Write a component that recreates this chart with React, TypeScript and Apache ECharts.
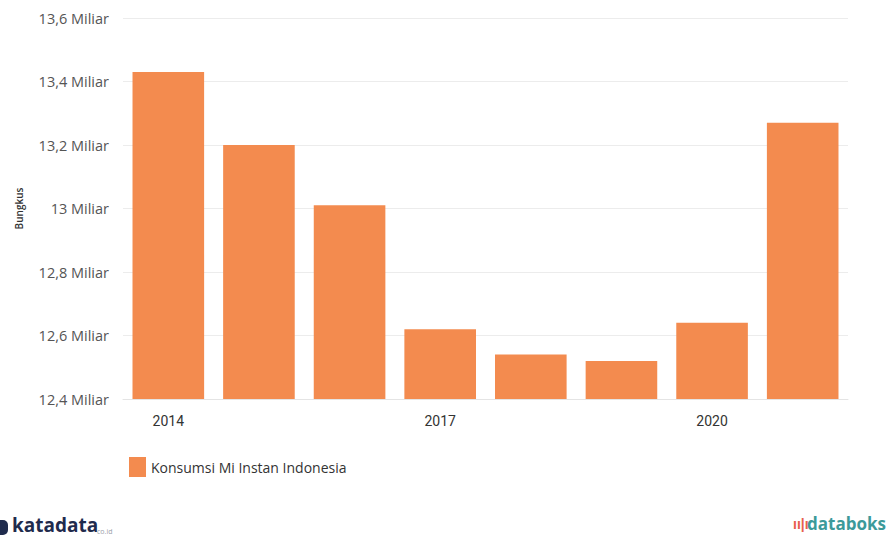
import React, { useEffect, useRef } from "react";
import * as echarts from "echarts";

const years = ["2014", "2015", "2016", "2017", "2018", "2019", "2020", "2021"];
const consumption = [13.43, 13.2, 13.01, 12.62, 12.54, 12.52, 12.64, 13.27];
const seriesName = "Konsumsi Mi Instan Indonesia";
const yAxisName = "Bungkus";

export default function App() {
  const ref = useRef<HTMLDivElement>(null);
  useEffect(() => {
    document.body.style.margin = "0";
    const chart = echarts.init(ref.current!, null, { renderer: "svg" });
    chart.setOption({
      animation: false,
      backgroundColor: "#ffffff",
      textStyle: { fontFamily: "'Open Sans', Roboto, sans-serif" },
      grid: { left: 123, right: 39, top: 18, bottom: 139, containLabel: false },
      legend: {
        left: 124,
        top: 452,
        icon: "rect",
        itemWidth: 17,
        itemHeight: 20,
        itemGap: 8,
        textStyle: { fontSize: 14, color: "#333" },
        data: [seriesName],
      },
      xAxis: {
        type: "category",
        data: years,
        axisLine: { lineStyle: { color: "#e4e4e4" } },
        axisTick: { show: false },
        axisLabel: { interval: 2, color: "#333", fontSize: 14, margin: 15, fontFamily: "Roboto, sans-serif" },
      },
      yAxis: {
        type: "value",
        min: 12.4,
        max: 13.6,
        interval: 0.2,
        name: yAxisName,
        nameLocation: "middle",
        nameRotate: 90,
        nameGap: 99,
        nameTextStyle: { fontSize: 10, color: "#333", fontWeight: 600 },
        axisLine: { show: false },
        axisTick: { show: false },
        splitLine: { lineStyle: { color: "#ececec" } },
        axisLabel: {
          color: "#555",
          fontSize: 14.5,
          margin: 14,
          formatter: (v: number) => {
            const r = Math.round(v * 10) / 10;
            return String(r).replace(".", ",") + " Miliar";
          },
        },
      },
      series: [
        {
          name: seriesName,
          type: "bar",
          data: consumption,
          barWidth: "79%",
          itemStyle: { color: "#F38B4F" },
        },
      ],
      graphic: [
        {
          type: "rect",
          left: -4,
          top: 520,
          shape: { width: 12, height: 15, r: 5 },
          style: { fill: "#1f2b4d" },
        },
        {
          type: "text",
          left: 12,
          top: 515,
          style: { text: "katadata", fontSize: 19, fontWeight: "bold", fill: "#1f2b4d", fontFamily: "'Open Sans', sans-serif" },
        },
        {
          type: "text",
          left: 97,
          top: 528,
          style: { text: "co.id", fontSize: 7, fill: "#9aa0aa", fontFamily: "'Open Sans', sans-serif" },
        },
        {
          type: "text",
          left: 793,
          top: 517,
          style: { text: "ıı|ı", fontSize: 14, fontWeight: "bold", fill: "#e8604c" },
        },
        {
          type: "text",
          left: 807,
          top: 515,
          style: { text: "databoks", fontSize: 17, fontWeight: "bold", fill: "#3c9a9a", fontFamily: "'Open Sans', sans-serif" },
        },
      ],
    });
    return () => chart.dispose();
  }, []);
  return <div ref={ref} style={{ width: 887, height: 538 }} />;
}
